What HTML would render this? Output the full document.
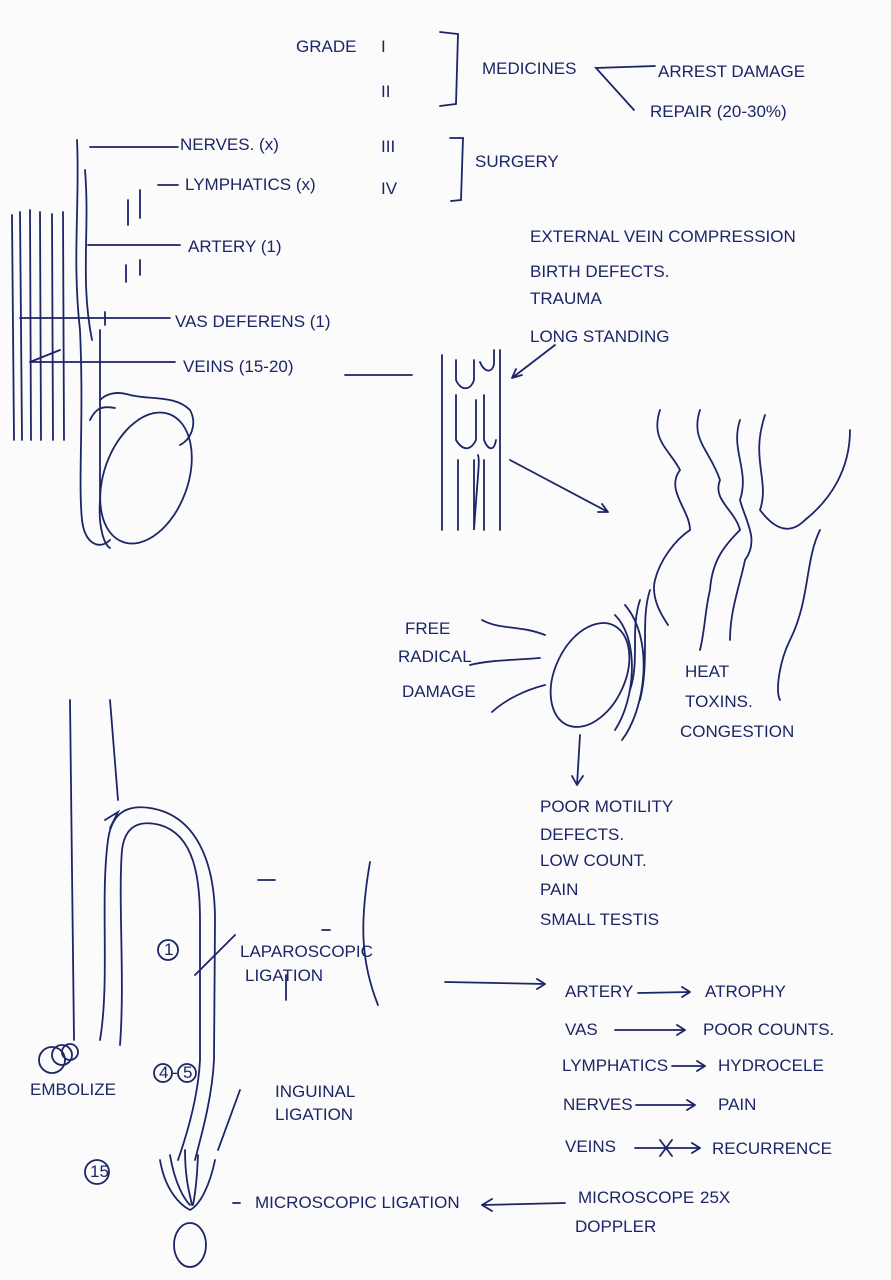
<!DOCTYPE html>
<html><head><meta charset="utf-8"><style>
html,body{margin:0;padding:0;background:#fbfbfc;}
svg{display:block}
text{font-family:"Liberation Sans",sans-serif;font-size:17px;fill:#1c2566;}
</style></head><body>
<svg width="891" height="1280" viewBox="0 0 891 1280" xmlns="http://www.w3.org/2000/svg">
<g fill="none" stroke="#1c2566" stroke-width="1.8" stroke-linecap="round">
<path d="M440 32 L458 34 L456 104 L440 106"/>
<path d="M450 138 L463 138 L461 200 L451 201"/>
<path d="M655 66 L596 68 L634 110"/>
<path d="M12 215 L14 440 M20 212 L22 440 M30 210 L31 440 M40 212 L41 440 M52 214 L53 440 M63 212 L64 440"/>
<path d="M77 140 C80 200 72 260 80 330 C84 420 78 480 82 520 C85 545 100 550 110 540"/>
<path d="M85 170 C90 230 80 280 92 340 M100 330 L100 500 C98 530 105 545 110 548"/>
<path d="M128 200 L128 225 M140 190 L140 218 M126 265 L126 282 M140 260 L140 275"/>
<path d="M100 400 C105 395 115 390 130 395 C150 400 175 395 190 410 C198 425 190 440 180 445"/>
<path d="M90 420 C95 410 100 405 115 408"/>
<ellipse cx="146" cy="478" rx="42" ry="68" transform="rotate(20 146 478)"/>
<path d="M90 147 L178 147 M158 185 L178 185 M88 245 L180 245 M20 318 L170 318 M105 312 L105 325 M30 362 L175 362 M30 362 L60 350 M345 375 L412 375"/>
<path d="M442 355 L442 530 M456 360 L456 380 C460 390 470 392 474 380 L474 360 M456 395 L456 440 C462 450 470 452 476 440 L476 400 M458 460 L458 530 M474 460 L474 530 C478 470 480 462 478 455"/>
<path d="M480 362 C484 372 492 374 494 364 L494 350 M484 395 L484 440 C488 450 494 452 496 440 M484 460 L484 530 M500 350 L500 530"/>
<path d="M555 345 L512 378 M512 378 L522 375 M512 378 L516 369"/>
<path d="M510 460 L608 512 M608 512 L598 512 M608 512 L602 504"/>
<path d="M660 410 C650 440 670 450 680 470 C665 490 690 510 690 530 C675 540 660 560 655 580 C650 600 665 620 668 625"/>
<path d="M700 410 C690 440 710 450 720 480 C712 500 735 510 740 530 C725 545 712 560 710 590 C705 610 705 630 700 650"/>
<path d="M740 420 C730 450 750 470 740 500 C745 520 760 540 745 560 C740 585 730 610 730 640"/>
<path d="M765 415 C750 460 770 480 760 510 C775 530 790 535 805 520 C830 500 850 470 850 430"/>
<path d="M820 530 C805 560 810 600 790 640 C780 660 775 690 780 700"/>
<path d="M640 600 C630 630 640 660 630 690 M650 590 C640 620 650 660 640 700"/>
<ellipse cx="590" cy="675" rx="35" ry="55" transform="rotate(25 590 675)"/>
<path d="M615 615 C640 640 635 700 615 730 M625 605 C655 640 645 710 622 740"/>
<path d="M482 620 C500 630 520 625 545 635 M470 665 C490 660 515 660 540 658 M492 712 C505 700 525 690 545 685"/>
<path d="M580 735 L577 785 M577 785 L572 776 M577 785 L583 776"/>
<path d="M70 700 L74 1040 M110 700 L118 800"/>
<path d="M100 1040 C110 980 100 900 108 840 C112 810 130 805 150 808 C195 815 215 860 215 920 L214 1060 C212 1100 200 1140 195 1160"/>
<path d="M120 1045 C125 980 118 900 122 850 C125 825 140 820 160 825 C195 835 200 880 200 920 L200 1060 C198 1100 185 1140 178 1160"/>
<path d="M105 820 L118 812 L110 828"/>
<path d="M160 1160 C165 1190 180 1205 190 1210 C200 1205 210 1185 215 1160 M170 1155 C175 1185 185 1200 190 1205 M185 1150 C185 1180 190 1195 192 1205 M198 1155 C197 1180 195 1195 193 1205"/>
<ellipse cx="190" cy="1245" rx="16" ry="22"/>
<path d="M240 1090 L218 1150 M195 975 L235 935 M258 880 L275 880 M286 975 L286 1000 M322 930 L330 930"/>
<path d="M370 862 C360 920 360 960 378 1005"/>
<path d="M445 982 L545 984 M545 984 L537 979 M545 984 L537 989"/>
<circle cx="52" cy="1060" r="13"/><circle cx="62" cy="1055" r="10"/><circle cx="70" cy="1052" r="8"/>
<circle cx="168" cy="950" r="10"/><circle cx="163" cy="1073" r="9"/><circle cx="187" cy="1073" r="9"/><circle cx="97" cy="1172" r="12"/>
<path d="M233 1203 L240 1203 M565 1203 L482 1205 M482 1205 L492 1199 M482 1205 L492 1211"/>
<path d="M638 993 L690 992 M690 992 L682 987 M690 992 L682 997"/>
<path d="M615 1030 L685 1030 M685 1030 L677 1025 M685 1030 L677 1035"/>
<path d="M672 1066 L705 1066 M705 1066 L697 1061 M705 1066 L697 1071"/>
<path d="M636 1105 L695 1105 M695 1105 L687 1100 M695 1105 L687 1110"/>
<path d="M635 1148 L700 1148 M700 1148 L692 1143 M700 1148 L692 1153 M660 1140 L672 1156 M672 1140 L660 1156"/>
</g>
<text x="296" y="52">GRADE</text><text x="381" y="52">I</text><text x="381" y="97">II</text><text x="381" y="152">III</text><text x="381" y="194">IV</text>
<text x="482" y="74">MEDICINES</text><text x="658" y="77">ARREST DAMAGE</text><text x="650" y="117">REPAIR (20-30%)</text>
<text x="475" y="167">SURGERY</text>
<text x="180" y="150">NERVES. (x)</text><text x="185" y="190">LYMPHATICS (x)</text><text x="188" y="252">ARTERY (1)</text>
<text x="175" y="327">VAS DEFERENS (1)</text><text x="183" y="372">VEINS (15-20)</text>
<text x="530" y="242" font-size="15">EXTERNAL VEIN COMPRESSION</text><text x="530" y="277" font-size="15">BIRTH DEFECTS.</text>
<text x="530" y="304" font-size="15">TRAUMA</text><text x="530" y="342">LONG STANDING</text>
<text x="405" y="634">FREE</text><text x="398" y="662">RADICAL</text><text x="402" y="697">DAMAGE</text>
<text x="685" y="677">HEAT</text><text x="685" y="707">TOXINS.</text><text x="680" y="737">CONGESTION</text>
<text x="540" y="812">POOR MOTILITY</text><text x="540" y="840">DEFECTS.</text><text x="540" y="866">LOW COUNT.</text>
<text x="540" y="895">PAIN</text><text x="540" y="925">SMALL TESTIS</text>
<text x="240" y="957">LAPAROSCOPIC</text><text x="245" y="981">LIGATION</text>
<text x="275" y="1097">INGUINAL</text><text x="275" y="1120">LIGATION</text>
<text x="30" y="1095" font-size="14">EMBOLIZE</text>
<text x="164" y="955" font-size="12">1</text><text x="159" y="1078" font-size="11">4</text><text x="172" y="1078" font-size="12">-</text><text x="183" y="1078" font-size="11">5</text><text x="90" y="1177" font-size="11">15</text>
<text x="565" y="997">ARTERY</text><text x="705" y="997">ATROPHY</text>
<text x="565" y="1035">VAS</text><text x="703" y="1035">POOR COUNTS.</text>
<text x="562" y="1071">LYMPHATICS</text><text x="718" y="1071">HYDROCELE</text>
<text x="563" y="1110">NERVES</text><text x="718" y="1110">PAIN</text>
<text x="565" y="1152">VEINS</text><text x="712" y="1154">RECURRENCE</text>
<text x="255" y="1208">MICROSCOPIC LIGATION</text>
<text x="578" y="1203">MICROSCOPE</text><text x="700" y="1203">25X</text><text x="575" y="1232">DOPPLER</text>
</svg>
</body></html>
